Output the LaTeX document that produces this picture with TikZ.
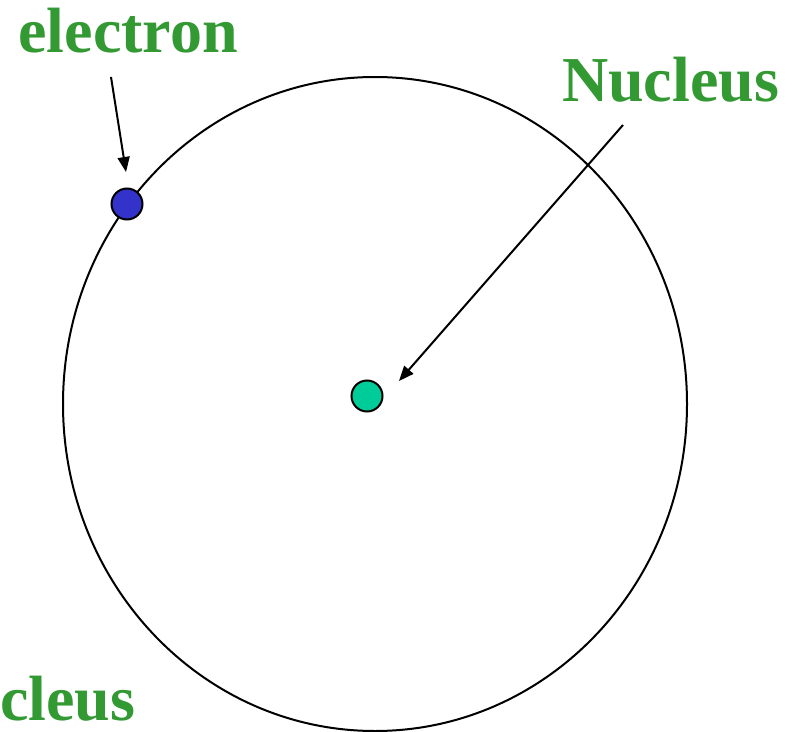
\documentclass[tikz,border=0pt]{standalone}
\usepackage{fontspec}
\setmainfont{Liberation Serif}
\usetikzlibrary{arrows.meta}
\definecolor{lblgreen}{RGB}{51,153,51}
\definecolor{eblue}{RGB}{51,51,204}
\definecolor{ngreen}{RGB}{0,204,153}
\begin{document}
\begin{tikzpicture}[x=1bp,y=-1bp,
  lbl/.style={text=lblgreen,font=\fontsize{64bp}{70bp}\selectfont\bfseries,inner sep=0pt,outer sep=0pt,anchor=base west},
  particle/.style={circle,draw=black,line width=2bp,minimum size=31bp,inner sep=0pt},
  pointer/.style={line width=2bp,-{Triangle[length=15bp,width=12bp]}}]
\useasboundingbox (0,0) rectangle (792,732);
\draw[line width=2bp] (375,404) ellipse [x radius=312, y radius=327];
\node[particle,fill=eblue] (electron) at (127,204) {};
\node[particle,fill=ngreen] (nucleus) at (367,396) {};
\node[lbl] (elbl) at (18.5,53) {electron};
\node[lbl] (nlbl) at (562,102) {Nucleus};
\node[lbl] (clbl) at (0,720) {cleus};
\coordinate (estart) at (111,77);
\coordinate (etip) at (126,172);
\coordinate (nstart) at (623,125);
\coordinate (ntip) at (399,381);
\draw[pointer] (estart) -- (etip);
\draw[pointer] (nstart) -- (ntip);
\end{tikzpicture}
\end{document}
